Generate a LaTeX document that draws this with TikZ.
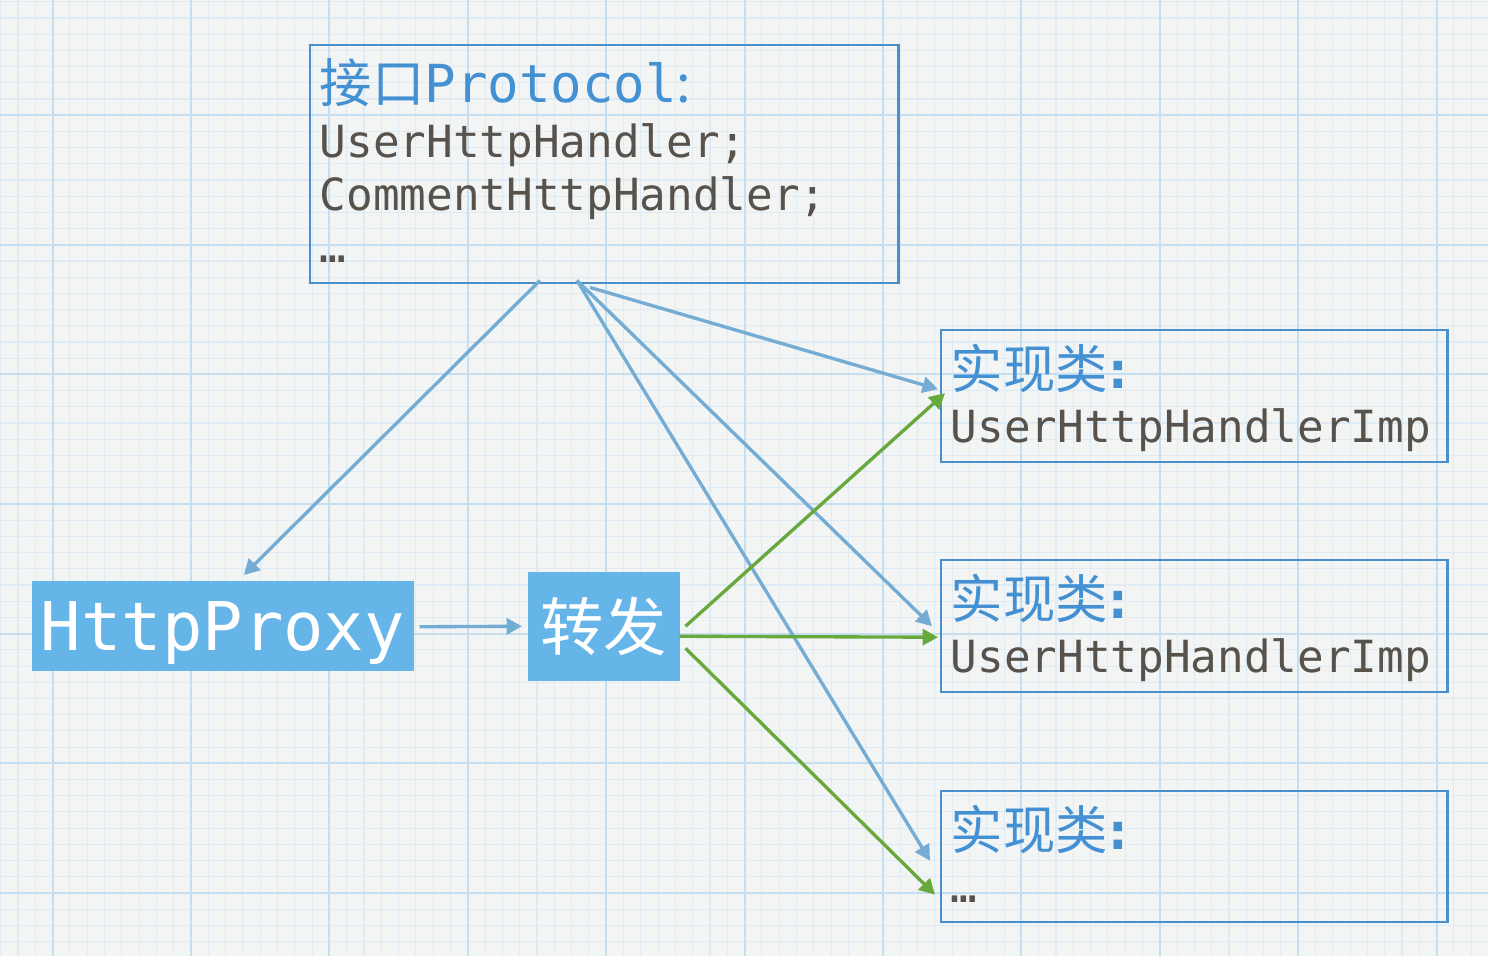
\documentclass[tikz,border=0pt]{standalone}
\usepackage{fontspec}
\newfontfamily\codefont{DejaVu Sans Mono}
\newfontfamily\hanfont{Noto Sans CJK SC}
\usetikzlibrary{arrows.meta}
\usetikzlibrary{calc}

\definecolor{paper}{HTML}{F3F4F4}
\definecolor{gridthin}{HTML}{DEEBF5}
\definecolor{gridthick}{HTML}{C6DFF0}
\definecolor{boxline}{HTML}{4A8FCB}
\definecolor{headblue}{HTML}{4390D3}
\definecolor{codegray}{HTML}{57524C}
\definecolor{fillblue}{HTML}{65B5E9}
\definecolor{linkblue}{HTML}{74ACD4}
\definecolor{linkgreen}{HTML}{67A93C}

\tikzset{
  minorline/.style={draw=gridthin, line width=0.3pt},
  majorline/.style={draw=gridthick, line width=0.55pt},
  outlinebox/.style={draw=boxline, line width=0.65pt, inner sep=0pt, anchor=north west},
  solidbox/.style={fill=fillblue, text=white, inner sep=0pt, anchor=north west},
  headtext/.style={anchor=base west, inner sep=0pt, text=headblue, font=\hanfont\fontsize{14.9}{17}\selectfont},
  codetext/.style={anchor=base west, inner sep=0pt, text=codegray, font=\codefont\fontsize{12.6}{15}\selectfont},
  bluelink/.style={draw=linkblue, line width=0.95pt, -{Triangle[length=4.4pt,width=4.6pt]}},
  greenlink/.style={draw=linkgreen, line width=0.95pt, -{Triangle[length=4.4pt,width=4.6pt]}},
}

\begin{document}
\begin{tikzpicture}[x=0.01cm, y=-0.01cm]
\useasboundingbox (0,0) rectangle (1488,956);

% paper
\fill [paper] (0,0) rectangle (1488,956);
\foreach \k in {0,...,86} \draw [minorline] ({0.7+17.3*\k},0)--({0.7+17.3*\k},956);
\foreach \k in {0,...,59} \draw [minorline] (0,{1.8+16.2*\k})--(1488,{1.8+16.2*\k});
\foreach \k in {0,...,10} \draw [majorline] ({52.6+138.4*\k},0)--({52.6+138.4*\k},956);
\foreach \k in {0,...,7} \draw [majorline] (0,{115.2+129.6*\k})--(1488,{115.2+129.6*\k});

% boxes
\node (proto) at (309,44) [outlinebox, minimum width=5.88cm, minimum height=2.38cm] {};
\node (implA) at (940,329) [outlinebox, minimum width=5.06cm, minimum height=1.32cm] {};
\node (implB) at (940,559) [outlinebox, minimum width=5.06cm, minimum height=1.32cm] {};
\node (implC) at (940,790) [outlinebox, minimum width=5.06cm, minimum height=1.31cm] {};
\node (proxy) at (31,580) [solidbox, minimum width=3.82cm, minimum height=0.9cm, text depth=0pt, font=\codefont\fontsize{19.1}{21}\selectfont] {HttpProxy};
\node (relay) at (527,571) [solidbox, minimum width=1.52cm, minimum height=1.09cm, font=\hanfont\fontsize{18}{20}\selectfont] {转发};

% texts
\node (protoHead) at ($(proto.north west)+(10,58)$) [headtext] {接口{\codefont Protocol}:};
\node (protoUser) at ($(proto.north west)+(10,113)$) [codetext] {UserHttpHandler;};
\node (protoComment) at ($(proto.north west)+(10,166)$) [codetext] {CommentHttpHandler;};
\node (protoMore) at ($(proto.north west)+(10,218)$) [codetext] {…};

\node (implAHead) at ($(implA.north west)+(10,59)$) [headtext] {实现类{\codefont\bfseries\kern-0.1em:}};
\node (implAName) at ($(implA.north west)+(10,113)$) [codetext] {UserHttpHandlerImp};
\node (implBHead) at ($(implB.north west)+(10,59)$) [headtext] {实现类{\codefont\bfseries\kern-0.1em:}};
\node (implBName) at ($(implB.north west)+(10,113)$) [codetext] {UserHttpHandlerImp};
\node (implCHead) at ($(implC.north west)+(10,59)$) [headtext] {实现类{\codefont\bfseries\kern-0.1em:}};
\node (implCMore) at ($(implC.north west)+(10,112)$) [codetext] {…};

% links
\draw [bluelink] ($(proto.south west)+(231,-4)$) -- ($(proxy.north)+(21,-5)$);
\draw [bluelink] ($(proto.south west)+(268,-4)$) -- ($(implC.west)+(-10,4)$);
\draw [bluelink] ($(proto.south west)+(268,-4)$) -- ($(implB.west)+(-8,0)$);
\draw [bluelink] ($(proto.south west)+(281,3)$) -- ($(implA.west)+(-2,-7)$);
\draw [bluelink] ($(proxy.east)+(5,1)$) -- ($(relay.west)+(-5,0)$);

\draw [greenlink] ($(relay.east)+(5,0)$) -- ($(implA.west)+(5,-3)$);
\draw [greenlink] ($(relay.east)+(-1,10)$) -- ($(implB.west)+(-2,11)$);
\draw [greenlink] ($(relay.east)+(5,22)$) -- ($(implC.west)+(-5,38)$);

\end{tikzpicture}
\end{document}
